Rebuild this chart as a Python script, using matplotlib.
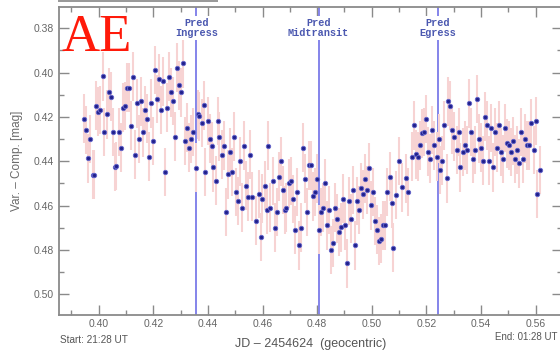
import matplotlib
matplotlib.use("Agg")
import matplotlib.pyplot as plt
from matplotlib.ticker import MultipleLocator, FixedLocator
import matplotlib.transforms as mtransforms
from matplotlib.patches import Rectangle

# Differential photometry of the transit (JD - 2454624, magnitudes)
jd = [
    0.3946, 0.3954, 0.3962, 0.3969, 0.3978, 0.3983, 0.3990, 0.3999, 0.4005, 0.4015,
    0.4021, 0.4029, 0.4036, 0.4044, 0.4051, 0.4060, 0.4064, 0.4073, 0.4080, 0.4088,
    0.4095, 0.4104, 0.4111, 0.4118, 0.4126, 0.4134, 0.4139, 0.4147, 0.4154, 0.4162,
    0.4169, 0.4176, 0.4183, 0.4192, 0.4199, 0.4206, 0.4213, 0.4221, 0.4228, 0.4235,
    0.4243, 0.4250, 0.4259, 0.4265, 0.4273, 0.4280, 0.4287, 0.4295, 0.4302, 0.4309,
    0.4317, 0.4324, 0.4331, 0.4339, 0.4347, 0.4355, 0.4363, 0.4368, 0.4378, 0.4384,
    0.4389, 0.4400, 0.4406, 0.4414, 0.4420, 0.4428, 0.4437, 0.4442, 0.4450, 0.4458,
    0.4465, 0.4472, 0.4481, 0.4487, 0.4494, 0.4502, 0.4510, 0.4517, 0.4525, 0.4533,
    0.4539, 0.4548, 0.4554, 0.4562, 0.4577, 0.4586, 0.4593, 0.4599, 0.4608, 0.4615,
    0.4621, 0.4628, 0.4637, 0.4644, 0.4652, 0.4659, 0.4666, 0.4674, 0.4681, 0.4687,
    0.4696, 0.4703, 0.4710, 0.4718, 0.4726, 0.4733, 0.4741, 0.4748, 0.4755, 0.4763,
    0.4770, 0.4777, 0.4785, 0.4792, 0.4799, 0.4806, 0.4813, 0.4820, 0.4829, 0.4835,
    0.4843, 0.4851, 0.4858, 0.4865, 0.4871, 0.4880, 0.4887, 0.4895, 0.4902, 0.4909,
    0.4917, 0.4924, 0.4932, 0.4940, 0.4946, 0.4954, 0.4962, 0.4969, 0.4976, 0.4984,
    0.4991, 0.4998, 0.5006, 0.5013, 0.5020, 0.5027, 0.5035, 0.5042, 0.5049, 0.5057,
    0.5065, 0.5073, 0.5079, 0.5090, 0.5100, 0.5112, 0.5125, 0.5133, 0.5146, 0.5153,
    0.5161, 0.5168, 0.5175, 0.5183, 0.5190, 0.5198, 0.5207, 0.5213, 0.5222, 0.5229,
    0.5238, 0.5245, 0.5250, 0.5258, 0.5266, 0.5274, 0.5280, 0.5286, 0.5295, 0.5302,
    0.5311, 0.5318, 0.5324, 0.5333, 0.5340, 0.5348, 0.5355, 0.5362, 0.5369, 0.5377,
    0.5384, 0.5391, 0.5399, 0.5406, 0.5413, 0.5421, 0.5429, 0.5436, 0.5444, 0.5451,
    0.5458, 0.5466, 0.5473, 0.5480, 0.5488, 0.5495, 0.5502, 0.5510, 0.5517, 0.5524,
    0.5532, 0.5539, 0.5546, 0.5554, 0.5561, 0.5568, 0.5576, 0.5583, 0.5593, 0.5600,
    0.5606, 0.5615,
]
mag = [
    0.4208, 0.4259, 0.4387, 0.4299, 0.4460, 0.4460, 0.4149, 0.4176, 0.4169, 0.4017,
    0.4268, 0.4188, 0.4087, 0.4109, 0.4268, 0.4426, 0.4421, 0.4268, 0.4339, 0.4158,
    0.4151, 0.4068, 0.4068, 0.4239, 0.4018, 0.4370, 0.4138, 0.4299, 0.4130, 0.4269,
    0.4169, 0.4208, 0.4379, 0.4138, 0.4308, 0.3988, 0.4119, 0.4028, 0.4169, 0.4039,
    0.4448, 0.4158, 0.4018, 0.4088, 0.4128, 0.4289, 0.3978, 0.4057, 0.4088, 0.3958,
    0.4308, 0.4248, 0.4339, 0.4299, 0.4268, 0.4429, 0.4188, 0.4197, 0.4227, 0.4147,
    0.4448, 0.4218, 0.4298, 0.4331, 0.4427, 0.4488, 0.4218, 0.4289, 0.4370, 0.4330,
    0.4629, 0.4459, 0.4359, 0.4448, 0.4289, 0.4539, 0.4579, 0.4400, 0.4609, 0.4330,
    0.4510, 0.4560, 0.4370, 0.4560, 0.4668, 0.4548, 0.4742, 0.4569, 0.4510, 0.4620,
    0.4330, 0.4609, 0.4489, 0.4700, 0.4629, 0.4470, 0.4400, 0.4530, 0.4620, 0.4609,
    0.4499, 0.4489, 0.4570, 0.4710, 0.4539, 0.4779, 0.4700, 0.4339, 0.4479, 0.4629,
    0.4418, 0.4418, 0.4558, 0.4539, 0.4479, 0.4709, 0.4629, 0.4609, 0.4499, 0.4689,
    0.4620, 0.4800, 0.4769, 0.4609, 0.4659, 0.4719, 0.4698, 0.4569, 0.4689, 0.4860,
    0.4579, 0.4659, 0.4530, 0.4779, 0.4579, 0.4620, 0.4519, 0.4549, 0.4479, 0.4530,
    0.4429, 0.4599, 0.4539, 0.4669, 0.4709, 0.4760, 0.4749, 0.4689, 0.4689, 0.4539,
    0.4470, 0.4589, 0.4790, 0.4552, 0.4399, 0.4517, 0.4477, 0.4539, 0.4379, 0.4238,
    0.4368, 0.4379, 0.4328, 0.4274, 0.4268, 0.4209, 0.4357, 0.4388, 0.4259, 0.4328,
    0.4379, 0.4298, 0.4439, 0.4397, 0.4238, 0.4477, 0.4129, 0.4149, 0.4259, 0.4289,
    0.4349, 0.4268, 0.4427, 0.4358, 0.4328, 0.4349, 0.4138, 0.4268, 0.4388, 0.4349,
    0.4119, 0.4298, 0.4339, 0.4397, 0.4199, 0.4238, 0.4397, 0.4250, 0.4427, 0.4268,
    0.4339, 0.4238, 0.4358, 0.4390, 0.4250, 0.4319, 0.4328, 0.4358, 0.4308, 0.4390,
    0.4349, 0.4409, 0.4268, 0.4390, 0.4298, 0.4328, 0.4328, 0.4229, 0.4349, 0.4218,
    0.4548, 0.4439,
]
mag_err = 0.011

# Predicted transit contact times
event_jd = [0.4357, 0.4805, 0.5242]
event_labels = ["Pred\nIngress", "Pred\nMidtransit", "Pred\nEgress"]

x_ticks = [0.40, 0.42, 0.44, 0.46, 0.48, 0.50, 0.52, 0.54, 0.56]
x_tick_labels = ["0.40", "0.42", "0.44", "0.46", "0.48", "0.50", "0.52", "0.54", "0.56"]
y_ticks = [0.38, 0.40, 0.42, 0.44, 0.46, 0.48, 0.50]
y_tick_labels = ["0.38", "0.40", "0.42", "0.44", "0.46", "0.48", "0.50"]

plt.rcParams["font.family"] = ["Liberation Sans", "DejaVu Sans"]

W, H = 560, 352
fig = plt.figure(figsize=(W / 100, H / 100), dpi=100)
ax = fig.add_axes([59 / W, 37 / H, 502.5 / W, 308 / H])

trans = mtransforms.blended_transform_factory(ax.transData, ax.transAxes)
for x, lab in zip(event_jd, event_labels):
    ax.axvline(x, color="#7b7be8", lw=1.3, zorder=2)
    ax.text(x, 0.932, lab, transform=trans, ha="center", va="center",
            family=["Liberation Mono", "DejaVu Sans Mono"], fontweight="bold",
            fontsize=7.4, color="#4b58b0", linespacing=1.0, zorder=4,
            bbox=dict(facecolor="white", edgecolor="none", pad=1.2))

ax.errorbar(jd, mag, yerr=mag_err, fmt="o", ms=3.1, mfc="#20208c", mec="#6464c8",
            mew=0.7, ecolor="#f7d3d3", elinewidth=1.5, capsize=0, zorder=3)

ax.set_xlim(0.38546, 0.56946)
ax.set_ylim(0.50934, 0.37039)

ax.xaxis.set_major_locator(FixedLocator(x_ticks))
ax.set_xticklabels(x_tick_labels)
ax.xaxis.set_minor_locator(MultipleLocator(0.01))
ax.yaxis.set_major_locator(FixedLocator(y_ticks))
ax.set_yticklabels(y_tick_labels)
ax.yaxis.set_minor_locator(MultipleLocator(0.01))

ax.tick_params(which="both", direction="in", top=True, right=True,
               color="#8a8a8a", labelcolor="#666666", labelsize=7.5)
ax.tick_params(which="major", length=7, width=1.0)
ax.tick_params(which="minor", length=3.5, width=1.0)
ax.tick_params(axis="y", pad=4)
ax.tick_params(axis="x", pad=3)
for s in ax.spines.values():
    s.set_color("#8a8a8a")
    s.set_linewidth(1.3)

ax.set_xlabel("JD \u2013 2454624  (geocentric)", fontsize=9, color="#555555", labelpad=6)
ax.set_ylabel("Var. \u2013 Comp. [mag]", fontsize=8.5, color="#6a6a6a", labelpad=7)

fig.text(60 / W, 1 - 340 / H, "Start: 21:28 UT", fontsize=7.2, color="#555555",
         ha="left", va="center")
fig.text(557 / W, 1 - 337 / H, "End: 01:28 UT", fontsize=7.0, color="#555555",
         ha="right", va="center")

fig.text(61 / W, 1 - 51 / H, "AE", family=["Liberation Serif", "DejaVu Serif"],
         fontsize=38, color="#ff1a0a", ha="left", va="baseline")

fig.add_artist(Rectangle((58 / W, 1 - 2.2 / H), 160 / W, 2.2 / H,
                         transform=fig.transFigure, facecolor="#9a9a9a",
                         edgecolor="none"))

fig.savefig("out.png", dpi=100)
